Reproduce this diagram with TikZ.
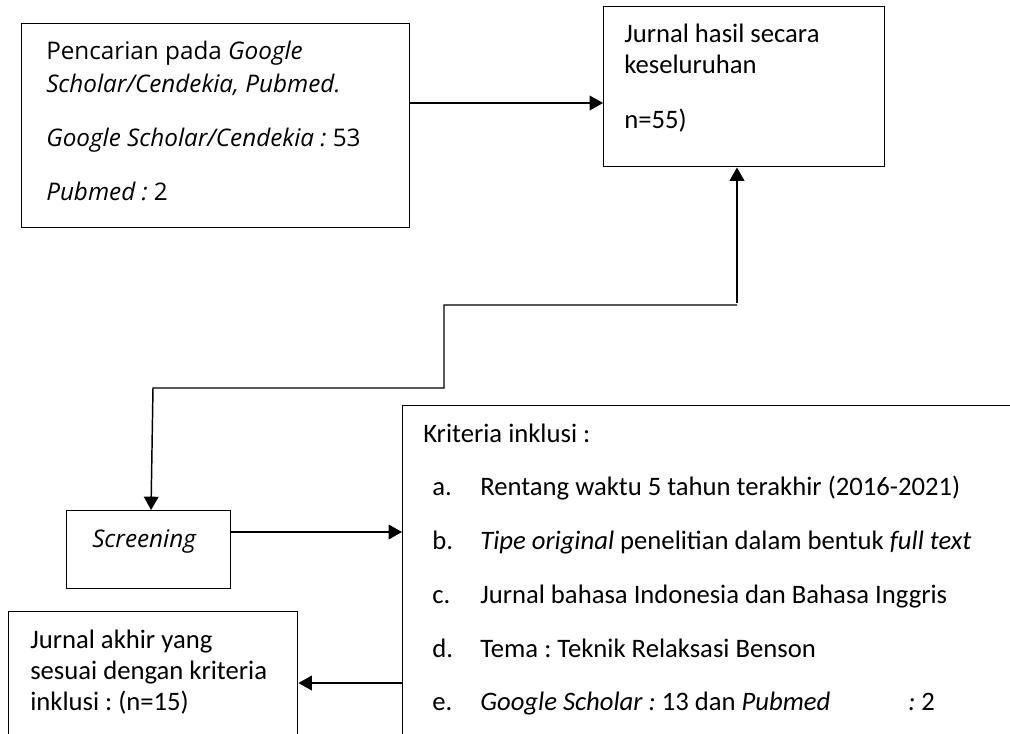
\documentclass[tikz,border=0pt]{standalone}
\usepackage{fontspec}
\setmainfont{Carlito}
\newfontfamily\osans{Open Sans}
\usetikzlibrary{arrows.meta}
\frenchspacing
\begin{document}
\begin{tikzpicture}[x=0.75pt,y=-0.75pt,
  boxed/.style={draw=black,line width=1.1pt,inner sep=0pt,anchor=north west},
  txt/.style={anchor=base west,inner sep=0pt,font=\fontsize{20}{24}\selectfont},
  otxt/.style={anchor=base west,inner sep=0pt,font=\osans\fontsize{18.2}{22}\selectfont},
  arr/.style={line width=1.1pt,-{Triangle[length=10pt,width=11pt]}},
  conn/.style={line width=1.1pt}]
\useasboundingbox (0,0) rectangle (1010,733);
\clip (0,0) rectangle (1010,733);
% boxes
\node[boxed,minimum width=388*0.75pt,minimum height=204*0.75pt] (b1) at (21,23) {};
\node[boxed,minimum width=281*0.75pt,minimum height=160*0.75pt] (b2) at (603,6) {};
\node[boxed,minimum width=164*0.75pt,minimum height=78*0.75pt] (sc) at (66,510) {};
\node[boxed,minimum width=640*0.75pt,minimum height=360*0.75pt] (kr) at (402,405) {};
\node[boxed,minimum width=289*0.75pt,minimum height=160*0.75pt] (ja) at (8,611) {};
% texts box 1
\node[otxt] (t11) at (46,59) {Pencarian pada \textit{Google}};
\node[otxt] (t12) at (46,92) {\textit{Scholar/Cendekia, Pubmed.}};
\node[otxt] (t13) at (46,146) {\textit{Google Scholar/Cendekia :} 53};
\node[otxt] (t14) at (46,200) {\textit{Pubmed :} 2};
% texts box 2
\node[txt] (t21) at (624,42) {Jurnal hasil secara};
\node[txt] (t22) at (624,73) {keseluruhan};
\node[txt] (t23) at (624,128) {n=55)};
% screening
\node[otxt] (t31) at (92,547) {\textit{Screening}};
% kriteria
\node[txt] (t40) at (423,442) {Kriteria inklusi :};
\node[txt] (la) at (432,495) {a.};
\node[txt] (lb) at (432,549) {b.};
\node[txt] (lc) at (432,603) {c.};
\node[txt] (ld) at (432,657) {d.};
\node[txt] (le) at (432,710) {e.};
\node[txt] (ia) at (480,495) {Rentang waktu 5 tahun terakhir (2016-2021)};
\node[txt] (ib) at (480,549) {\textit{Tipe original} penelitian dalam bentuk \textit{full text}};
\node[txt] (ic) at (480,603) {Jurnal bahasa Indonesia dan Bahasa Inggris};
\node[txt] (id) at (480,657) {Tema : Teknik Relaksasi Benson};
\node[txt] (ie) at (480,710) {\textit{Google Scholar :} 13 dan \textit{Pubmed}};
\node[txt] (ie2) at (908,710) {\textit{:} 2};
% jurnal akhir
\node[txt] (t51) at (30,648) {Jurnal akhir yang};
\node[txt] (t52) at (30,679) {sesuai dengan kriteria};
\node[txt] (t53) at (30,710) {inklusi : (n=15)};
% connector coordinates
\coordinate (y1) at (0,103);
\coordinate (x2) at (737,0);
\coordinate (j1) at (737,303);
\coordinate (c1) at (444,305);
\coordinate (c2) at (444,388);
\coordinate (c3) at (153,388);
\coordinate (x3) at (151,0);
\coordinate (y4) at (0,532);
\coordinate (y5) at (0,683);
% connectors
\draw[arr] (b1.east |- y1) -- (b2.west |- y1);
\draw[arr] (j1) -- (x2 |- b2.south);
\draw[arr] (j1 |- c1) -- (c1) -- (c2) -- (c3) -- (x3 |- sc.north);
\draw[arr] (sc.east |- y4) -- (kr.west |- y4);
\draw[arr] (kr.west |- y5) -- (ja.east |- y5);
\end{tikzpicture}
\end{document}
